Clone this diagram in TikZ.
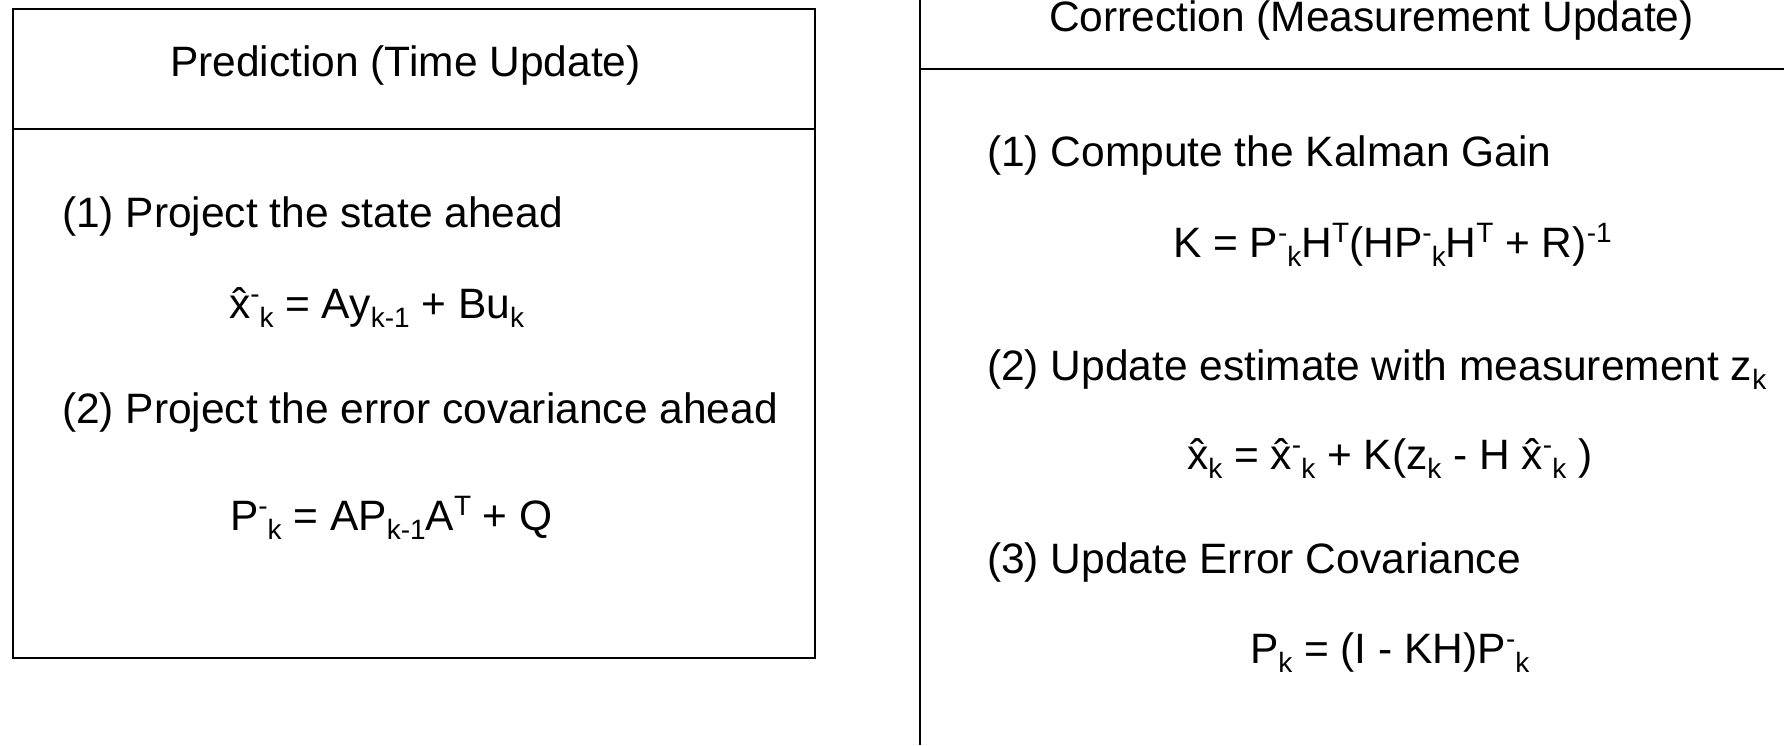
\documentclass[tikz,border=0pt]{standalone}
\usepackage{fontspec}
\setmainfont{Liberation Sans}
\newcommand{\myup}[1]{\raisebox{0.33em}{\fontsize{28}{30}\selectfont #1}}
\newcommand{\mydn}[1]{\raisebox{-0.22em}{\fontsize{28}{30}\selectfont #1}}
\begin{document}
\begin{tikzpicture}[x=1pt,y=-1pt,
  txt/.style={anchor=base west,inner sep=0pt,outer sep=0pt,font=\fontsize{42.5}{51}\selectfont},
  frame/.style={draw=black,line width=2pt}]
\useasboundingbox (0,0) rectangle (1784,745);
\fill[white] (0,0) rectangle (1784,745);
% left box
\draw[frame] (12.5,9) rectangle (815,658);
\draw[frame] (12.5,129) -- (815,129);
\node[txt] (lh) at (170,76) {Prediction (Time Update)};
\node[txt] (l1) at (62,227) {(1) Project the state ahead};
\node[txt] (le1) at (229,318) {\^x\myup{-}\mydn{k} = Ay\mydn{k-1} + Bu\mydn{k}};
\node[txt] (l2) at (62,423) {(2) Project the error covariance ahead};
\node[txt] (le2) at (230,530) {P\myup{-}\mydn{k} = AP\mydn{k-1}A\myup{T} + Q};
% right box
\draw[frame,line width=1.6pt] (920,0) -- (920,745);
\draw[frame,line width=1.6pt] (920,69) -- (1784,69);
\node[txt] (rh) at (1049,31) {Correction (Measurement Update)};
\node[txt] (r1) at (987,166) {(1) Compute the Kalman Gain};
\node[txt] (re1) at (1173,257) {K = P\myup{-}\mydn{k}H\myup{T}(HP\myup{-}\mydn{k}H\myup{T} + R)\myup{-1}};
\node[txt] (r2) at (987,380) {(2) Update estimate with measurement z\mydn{k}};
\node[txt] (re2) at (1187,469) {\^x\mydn{k} = \^x\myup{-}\mydn{k} + K(z\mydn{k} - H \^x\myup{-}\mydn{k} )};
\node[txt] (r3) at (987,573) {(3) Update Error Covariance};
\node[txt] (re3) at (1250,663) {P\mydn{k} = (I - KH)P\myup{-}\mydn{k}};
\end{tikzpicture}
\end{document}
